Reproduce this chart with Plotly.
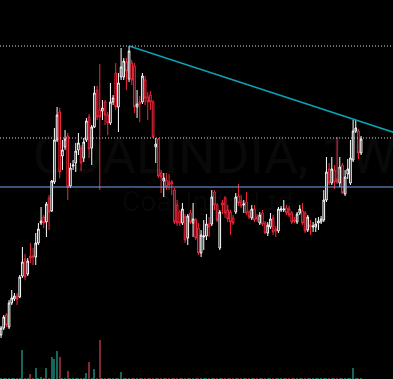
import plotly.graph_objects as go

# Weekly OHLC (price units), oldest -> newest
open_ = [165,172,185,173,197,201,204,203,224,241,226,244,244,243,257,277,283,278,302,289,
         318,360,388,344,353,364,314,334,337,350,352,342,360,383,352,373,410,390,389,398,
         385,377,398,427,393,423,423,438,421,437,434,393,398,398,420,403,405,398,353,361,
         327,319,320,318,318,310,295,288,277,283,262,287,277,280,272,247,263,264,276,276,
         308,295,252,297,302,290,288,282,288,304,299,295,298,288,282,291,283,277,287,277,
         267,273,282,271,269,290,290,292,291,287,280,278,287,289,287,270,275,273,273,277,
         278,280,300,331,317,330,321,317,335,306,326,317,340,369,369,347]
high = [174,185,187,200,210,207,207,225,253,246,242,257,252,267,277,293,285,298,305,320,
        372,393,392,360,370,367,337,340,357,367,355,362,382,386,375,414,414,436,400,400,
        388,417,405,437,427,452,442,442,454,440,437,410,404,427,424,408,409,400,362,362,
        330,327,327,326,320,312,300,290,297,286,286,290,297,282,277,270,280,286,283,310,
        310,297,290,300,304,295,290,285,307,316,305,300,308,290,295,295,286,288,290,279,
        278,287,285,274,293,294,300,295,294,289,283,288,295,297,289,285,280,278,282,283,
        284,310,343,337,343,335,363,343,337,330,341,360,380,380,371,364]
low = [162,170,173,171,195,199,195,202,222,220,224,237,235,235,255,275,272,263,270,288,
       316,358,322,330,350,300,312,330,328,345,329,338,358,342,335,372,380,310,380,375,
       365,375,395,390,368,420,420,410,418,415,387,382,378,396,395,380,390,362,337,322,
       307,303,310,310,305,276,274,274,275,257,255,276,263,260,245,243,250,260,263,274,
       290,278,250,286,282,278,265,275,286,294,292,287,285,281,280,278,278,275,274,266,
       264,271,265,263,267,288,288,285,283,276,277,276,285,275,267,268,265,268,268,270,
       276,278,298,315,315,311,316,313,306,304,321,315,338,367,341,345]
close = [172,183,175,197,202,204,201,223,238,223,239,242,243,257,271,279,277,296,288,319,
         360,385,328,350,361,313,332,335,349,357,337,358,379,351,373,407,383,383,392,385,
         377,398,402,393,417,433,439,429,449,420,393,396,396,424,402,398,398,363,356,324,
         323,322,313,315,316,278,277,277,291,260,284,278,281,262,247,265,264,276,273,303,
         295,280,288,295,287,281,278,277,303,297,294,296,287,283,291,280,281,285,276,267,
         275,281,268,269,291,291,291,287,285,278,279,286,291,277,269,283,273,274,276,279,
         281,300,328,317,331,318,318,333,307,323,331,342,369,372,347,361]
# Weekly volume (millions of shares)
volume = [0.3,0.4,0.3,0.5,0.4,0.3,0.4,0.5,29,0.4,0.5,5,0.4,11,0.3,2,0.4,11,0.5,22,
          20,28,22,0.4,0.5,8,0.4,0.3,0.4,0.3,0.5,0.4,6,17,1,10,0.5,39,0.4,0.3,
          0.4,0.3,0.5,0.4,0.3,7,0.4,0.5,0.4,0.3,0.4,0.3,0.4,0.5,0.3,0.4,0.3,0.4,0.5,0.4,
          0.3,0.4,0.3,0.4,0.5,0.4,0.3,0.4,0.3,0.4,0.3,0.4,0.5,0.4,0.3,0.4,0.3,0.4,0.3,0.4,
          0.3,0.4,0.5,0.3,0.4,0.3,0.4,0.3,0.4,0.3,0.4,0.3,0.4,0.3,0.4,0.3,0.4,0.3,0.4,0.3,
          0.4,0.3,0.4,0.3,0.4,0.3,0.4,0.3,0.4,0.3,0.4,0.3,0.4,0.3,0.4,0.3,0.4,0.3,0.4,0.3,
          0.4,0.5,0.4,0.3,0.4,0.3,0.4,0.3,0.4,0.3,0.4,0.5,11,0.4,0.3,0.4]
dotted_levels = [454, 362]
solid_level = 313
trend_touch_index = 133
symbol_title = "COALINDIA, 1W"
symbol_name = "Coal India Ltd"

n = len(close)
x = list(range(n))
up_color = "#ffffff"
down_color = "#f7273b"
vol_colors = ["#16665c" if c >= o else "#7d2a30" for o, c in zip(open_, close)]

x_left = -0.4
x_right = x_left + 393 / 2.667

# trendline from peak high through touch high, extended to the right edge
peak_i = max(range(n), key=lambda i: high[i])
slope = (high[trend_touch_index] - high[peak_i]) / (trend_touch_index - peak_i)
tx = [peak_i, x_right + 1]
ty = [high[peak_i], high[peak_i] + slope * (x_right + 1 - peak_i)]

fig = go.Figure()
fig.add_trace(go.Bar(x=x, y=volume, marker=dict(color=vol_colors, line=dict(width=0)),
                     width=0.4, yaxis="y2", hoverinfo="skip"))
fig.add_trace(go.Candlestick(
    x=x, open=open_, high=high, low=low, close=close,
    increasing=dict(line=dict(color=up_color, width=1), fillcolor="#000000"),
    decreasing=dict(line=dict(color=down_color, width=1), fillcolor="#000000"),
    whiskerwidth=0))
fig.add_trace(go.Scatter(x=tx, y=ty, mode="lines",
                         line=dict(color="#0aa0b4", width=1.5), hoverinfo="skip"))

shapes = []
for lv in dotted_levels:
    shapes.append(dict(type="line", xref="paper", x0=0, x1=1, yref="y", y0=lv, y1=lv,
                       line=dict(color="#d8d8d8", width=1, dash="1px,2px")))
shapes.append(dict(type="line", xref="paper", x0=0, x1=1, yref="y", y0=solid_level, y1=solid_level,
                   line=dict(color="#78a6f2", width=1)))

fig.update_layout(
    width=393, height=379,
    margin=dict(l=0, r=0, t=0, b=0),
    paper_bgcolor="#000000", plot_bgcolor="#000000",
    showlegend=False,
    bargap=0,
    boxgap=0.12,
    xaxis=dict(range=[x_left, x_right], visible=False, rangeslider=dict(visible=False),
               showgrid=False, zeroline=False),
    yaxis=dict(range=[121, 500], visible=False, showgrid=False, zeroline=False),
    yaxis2=dict(range=[0, 379], overlaying="y", visible=False, showgrid=False, zeroline=False),
    shapes=shapes,
    annotations=[
        dict(text=symbol_title, xref="paper", yref="paper", x=0.545, y=1 - 155 / 379,
             xanchor="center", yanchor="middle", showarrow=False,
             font=dict(family="Roboto", size=52, color="rgba(255,255,255,0.035)")),
        dict(text=symbol_name, xref="paper", yref="paper", x=0.528, y=1 - 201 / 379,
             xanchor="center", yanchor="middle", showarrow=False,
             font=dict(family="Roboto", size=28, color="rgba(255,255,255,0.035)")),
    ],
)

fig.write_html(
    "out.html",
    config={"displayModeBar": False},
    post_script="document.body.style.margin='0';document.body.style.padding='0';"
                "document.body.style.background='#000';document.body.style.overflow='hidden';",
)
